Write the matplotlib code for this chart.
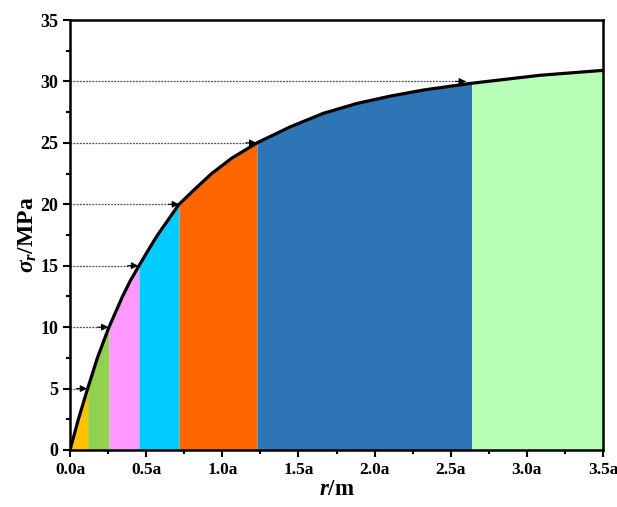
import numpy as np
import matplotlib
matplotlib.use("Agg")
import matplotlib.pyplot as plt
from matplotlib.ticker import MultipleLocator, FuncFormatter

plt.rcParams['font.family'] = ['Liberation Serif', 'DejaVu Serif']
plt.rcParams['font.weight'] = 'bold'
plt.rcParams['mathtext.fontset'] = 'custom'
plt.rcParams['mathtext.rm'] = 'Liberation Serif:bold'
plt.rcParams['mathtext.it'] = 'Liberation Serif:italic:bold'
plt.rcParams['mathtext.bf'] = 'Liberation Serif:bold'

# curve (r in units of a, sigma_r in MPa)
r_pts = [0, 0.055, 0.116, 0.18, 0.256, 0.345, 0.395, 0.453, 0.513, 0.575,
         0.716, 0.821, 0.93, 1.062, 1.228, 1.445, 1.663, 1.882, 2.101,
         2.32, 2.637, 3.086, 3.5]
s_pts = [0, 2.5, 5, 7.5, 10, 12.5, 13.75, 15, 16.25, 17.5,
         20, 21.25, 22.5, 23.75, 25, 26.3, 27.4, 28.2, 28.8,
         29.3, 29.85, 30.5, 30.9]

# zone boundaries and stress levels
bounds = [0, 0.116, 0.256, 0.453, 0.716, 1.228, 2.637, 3.5]
levels = [5, 10, 15, 20, 25, 30]
arrow_end = [0.112, 0.252, 0.448, 0.716, 1.224, 2.60]
colors = ['#FFC000', '#92D050', '#FF99FF', '#00CCFF', '#FF6600', '#2E75B6', '#B7FFB7']

r = np.array(r_pts)
s = np.array(s_pts)

fig = plt.figure(figsize=(6.17, 5.07), dpi=100)
ax = fig.add_axes([70/617, 1-450/507, 533/617, 430/507])

for i in range(len(bounds)-1):
    m = (r >= bounds[i]) & (r <= bounds[i+1])
    ax.fill_between(r[m], 0, s[m], color=colors[i], lw=0, zorder=1)

for lv, xe in zip(levels, arrow_end):
    ax.plot([0, xe], [lv, lv], ls=(0, (1.5, 1)), color='0.3', lw=0.9, zorder=2)
    ax.annotate('', xy=(xe, lv), xytext=(xe-0.07, lv),
                arrowprops=dict(arrowstyle='-|>', color='black', lw=0.8,
                                mutation_scale=10, shrinkA=0, shrinkB=0), zorder=3)

ax.plot(r, s, color='black', lw=2.3, zorder=4, solid_capstyle='round',
        solid_joinstyle='round')

ax.set_xlim(0, 3.5)
ax.set_ylim(0, 35)
ax.xaxis.set_major_locator(MultipleLocator(0.5))
ax.xaxis.set_minor_locator(MultipleLocator(0.25))
ax.yaxis.set_major_locator(MultipleLocator(5))
ax.yaxis.set_minor_locator(MultipleLocator(2.5))
ax.xaxis.set_major_formatter(FuncFormatter(lambda v, p: '%.1fa' % v))
ax.tick_params(which='both', direction='out', width=1.5)
ax.tick_params(axis='x', labelsize=12.5)
ax.tick_params(axis='y', labelsize=13)
ax.tick_params(which='major', length=5)
ax.tick_params(which='minor', length=3)
for sp in ax.spines.values():
    sp.set_linewidth(1.8)
for lab in ax.get_xticklabels() + ax.get_yticklabels():
    lab.set_fontweight('bold')

ax.set_xlabel(r'$r$/m', fontsize=16.5, fontweight='bold', labelpad=1)
ax.set_ylabel(r'$\sigma_r$/MPa', fontsize=17, fontweight='bold', labelpad=1)

fig.savefig('out.png', dpi=100)
